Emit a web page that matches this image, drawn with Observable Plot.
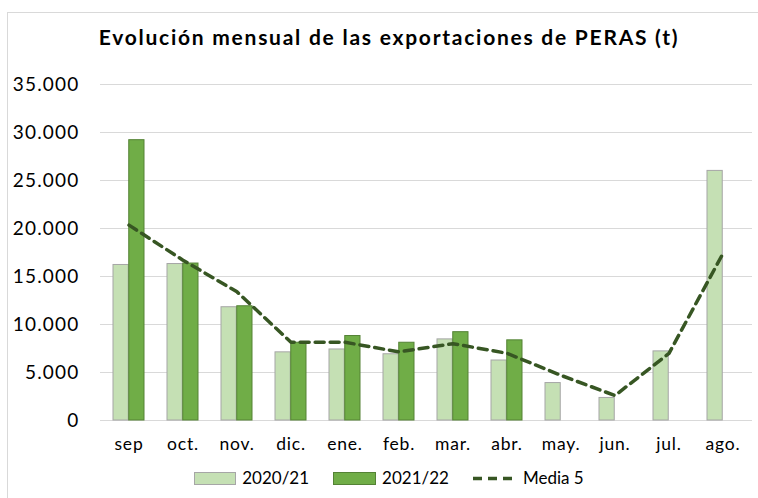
<!DOCTYPE html>
<html><head><meta charset="utf-8">
<script src="https://cdn.jsdelivr.net/npm/d3@7"></script>
<script src="https://cdn.jsdelivr.net/npm/@observablehq/plot@0.6"></script>
<style>
body{margin:0;background:#fff;overflow:hidden;font-family:Lato,"Open Sans",sans-serif}
#wrap{position:relative;width:758px;height:498px;overflow:hidden;background:#fff}
#frame{position:absolute;left:7px;top:12px;width:800px;height:600px;border:1px solid #d9d9d9}
#title{position:absolute;left:10px;width:758px;top:24px;text-align:center;font-weight:bold;font-size:21px;letter-spacing:1.75px;line-height:1.2;color:#000}
#chart{position:absolute;left:0;top:0}
#chart g[aria-label="y-axis tick label"] text{letter-spacing:1.2px}
#chart g[aria-label="x-axis tick label"] text{letter-spacing:0.8px}
#legend{position:absolute;left:0;width:778px;top:467px;display:flex;justify-content:center;align-items:center;font-size:17px;color:#000;line-height:22px}
.item{display:flex;align-items:center;margin:0 12px}
.item span{margin-left:6px}
</style>
</head><body>
<div id="wrap">
  <div id="frame"></div>
  <div id="chart"></div>
  <div id="title">Evolución mensual de las exportaciones de PERAS (t)</div>
  <div id="legend"></div>
</div>
<script>
const months = ["sep","oct.","nov.","dic.","ene.","feb.","mar.","abr.","may.","jun.","jul.","ago."];
const s2021 = [16200,16300,11800,7100,7400,6900,8450,6250,3900,2350,7200,26000];
const s2122 = [29200,16350,11900,8100,8800,8100,9200,8350,null,null,null,null];
const media5 = [20350,16700,13400,8150,8150,7150,8000,7000,4700,2600,7000,17400];
const yTicks = [0,5000,10000,15000,20000,25000,30000,35000];
const seriesNames = ["2020/21","2021/22","Media 5"];

const rows = months.map((m,i)=>({month:m, a:s2021[i], b:s2122[i], m5:media5[i]}));
const fmt = d3.formatLocale({decimal:",",thousands:".",grouping:[3],currency:["","€"]}).format(",");

const W = 758, mL = 100, mR = 6;
const pIn = 0.42, pOut = 0.21;
const step = (W - mL - mR) / (months.length - pIn + 2*pOut);
const half = step * (1 - pIn) / 2;

const light = "#C5E0B4", lightStroke = "#A6A6A6";
const dark = "#70AD47", darkStroke = "#548235";
const lineCol = "#375623";

const chart = Plot.plot({
  width: W, height: 460,
  marginLeft: mL, marginRight: mR, marginTop: 84, marginBottom: 40,
  style: {fontFamily: "Lato, 'Open Sans', sans-serif", background: "transparent", color: "#000"},
  x: {domain: months, paddingInner: pIn, paddingOuter: pOut, label: null},
  y: {domain: [0,35000], label: null},
  marks: [
    Plot.gridY(yTicks, {stroke: "#d9d9d9", strokeOpacity: 1, strokeWidth: 1}),
    Plot.axisY(yTicks, {tickSize: 0, tickPadding: 21, tickFormat: fmt, fontSize: 19, label: null}),
    Plot.axisX({tickSize: 0, tickPadding: 17, fontSize: 17.5, label: null}),
    Plot.barY(rows, {x: "month", y: "a", fill: light, stroke: lightStroke, strokeWidth: 1, insetRight: half}),
    Plot.barY(rows.filter(d => d.b != null), {x: "month", y: "b", fill: dark, stroke: darkStroke, strokeWidth: 1, insetLeft: half}),
    Plot.lineY(rows, {x: "month", y: "m5", stroke: lineCol, strokeWidth: 3.5, strokeDasharray: "9,6"})
  ]
});
document.getElementById("chart").appendChild(chart);

const lg = document.getElementById("legend");
const sw = [
  `<svg width="42" height="13"><rect x="0.5" y="0.5" width="41" height="12" fill="${light}" stroke="${lightStroke}"/></svg>`,
  `<svg width="43" height="13"><rect x="0.5" y="0.5" width="42" height="12" fill="${dark}" stroke="${darkStroke}"/></svg>`,
  `<svg width="44" height="13"><line x1="0" y1="6.5" x2="44" y2="6.5" stroke="${lineCol}" stroke-width="3.5" stroke-dasharray="9,6"/></svg>`
];
lg.innerHTML = seriesNames.map((n,i)=>`<div class="item">${sw[i]}<span>${n}</span></div>`).join("");
</script>
</body></html>
